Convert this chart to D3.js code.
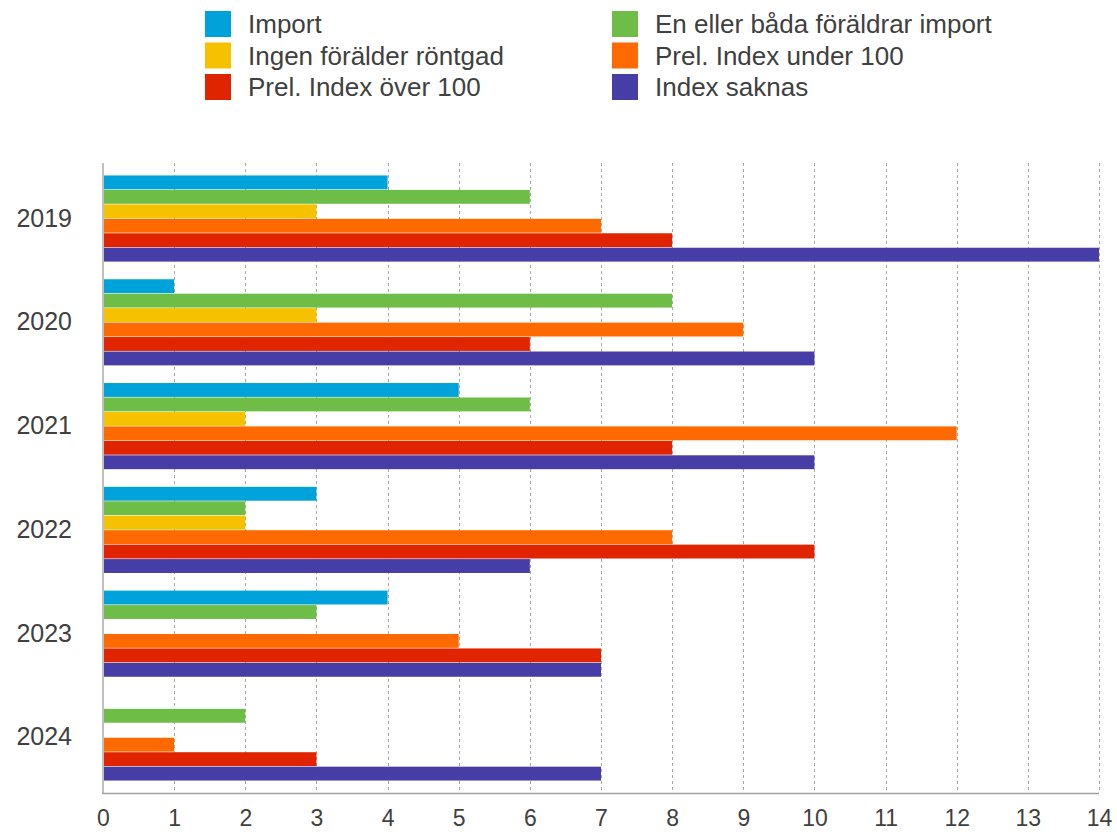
<!DOCTYPE html>
<html>
<head>
<meta charset="utf-8">
<script src="https://cdn.jsdelivr.net/npm/d3@7"></script>
<style>
  body { margin: 0; background: #fff; }
  text { font-family: "Helvetica Neue", "Liberation Sans", Arial, sans-serif; fill: #404040; }
</style>
</head>
<body>
<div id="chart"></div>
<script>
const years = ['2019', '2020', '2021', '2022', '2023', '2024']
const seriesNames = ['Import', 'En eller båda föräldrar import', 'Ingen förälder röntgad',
  'Prel. Index under 100', 'Prel. Index över 100', 'Index saknas']
const colors = ['#00a3d9', '#6ebd46', '#f6c200', '#ff6a00', '#e02400', '#463da7']
// values per series, one entry per year
const importVals = [4, 1, 5, 3, 4, 0]
const enEllerBada = [6, 8, 6, 2, 3, 2]
const ingenRontgad = [3, 3, 2, 2, 0, 0]
const indexUnder = [7, 9, 12, 8, 5, 1]
const indexOver = [8, 6, 8, 10, 7, 3]
const indexSaknas = [14, 10, 10, 6, 7, 7]
const xTicks = d3.range(0, 15)

const series = [importVals, enEllerBada, ingenRontgad, indexUnder, indexOver, indexSaknas]
const WIDTH = 1117, HEIGHT = 832
const PLOT = {LEFT: 103, RIGHT: 1099, TOP: 163, BOTTOM: 793}

const svg = d3.select('#chart').append('svg')
  .attr('width', WIDTH)
  .attr('height', HEIGHT)

const x = d3.scaleLinear().domain([0, 14]).range([PLOT.LEFT, PLOT.RIGHT])
const y = d3.scaleBand().domain(years).range([PLOT.TOP, PLOT.BOTTOM])
  .paddingInner(0.17).paddingOuter(0.12)
const yInner = d3.scaleBand().domain(d3.range(seriesNames.length))
  .range([0, y.bandwidth()]).paddingInner(0.04)

// dashed gridlines
svg.append('g')
  .selectAll('line')
  .data(xTicks.filter(d => d > 0))
  .enter().append('line')
  .attr('x1', d => Math.round(x(d)) + 0.5)
  .attr('x2', d => Math.round(x(d)) + 0.5)
  .attr('y1', PLOT.TOP)
  .attr('y2', PLOT.BOTTOM)
  .attr('stroke', '#a8a8a8')
  .attr('stroke-dasharray', '3,3')

// bars
const rows = []
years.forEach((yr, i) => {
  series.forEach((s, j) => rows.push({year: yr, idx: j, value: s[i]}))
})
svg.append('g')
  .selectAll('rect')
  .data(rows.filter(d => d.value > 0))
  .enter().append('rect')
  .attr('x', x(0))
  .attr('y', d => y(d.year) + yInner(d.idx))
  .attr('width', d => x(d.value) - x(0))
  .attr('height', yInner.bandwidth())
  .attr('fill', d => colors[d.idx])

// axes lines
svg.append('line')
  .attr('x1', PLOT.LEFT).attr('x2', PLOT.LEFT)
  .attr('y1', PLOT.TOP).attr('y2', PLOT.BOTTOM)
  .attr('stroke', '#c0c0c0').attr('stroke-width', 2)
svg.append('line')
  .attr('x1', PLOT.LEFT - 1).attr('x2', PLOT.RIGHT)
  .attr('y1', PLOT.BOTTOM + 0.5).attr('y2', PLOT.BOTTOM + 0.5)
  .attr('stroke', '#a0a0a0').attr('stroke-width', 1.5)

// x tick labels
const xAxis = d3.axisBottom(x).tickValues(xTicks).tickSize(0).tickPadding(17)
const xg = svg.append('g').attr('transform', `translate(0, ${PLOT.BOTTOM})`).call(xAxis)
xg.select('.domain').remove()
xg.selectAll('text').style('font-size', '23px').attr('fill', '#404040')

// y tick labels
const yAxis = d3.axisLeft(y).tickSize(0).tickPadding(31)
const yg = svg.append('g').attr('transform', `translate(${PLOT.LEFT}, 0)`).call(yAxis)
yg.select('.domain').remove()
yg.selectAll('text').style('font-size', '25px').attr('fill', '#404040')

// legend, two columns of three
const legend = svg.append('g')
const items = legend.selectAll('g')
  .data(seriesNames)
  .enter().append('g')
  .attr('transform', (d, i) => `translate(${i % 2 === 0 ? 205 : 612}, ${11 + Math.floor(i / 2) * 31.5})`)
items.append('rect')
  .attr('width', 26).attr('height', 26)
  .attr('fill', (d, i) => colors[i])
items.append('text')
  .attr('x', 43)
  .attr('y', 22)
  .style('font-size', '26px')
  .text(d => d)
</script>
</body>
</html>
